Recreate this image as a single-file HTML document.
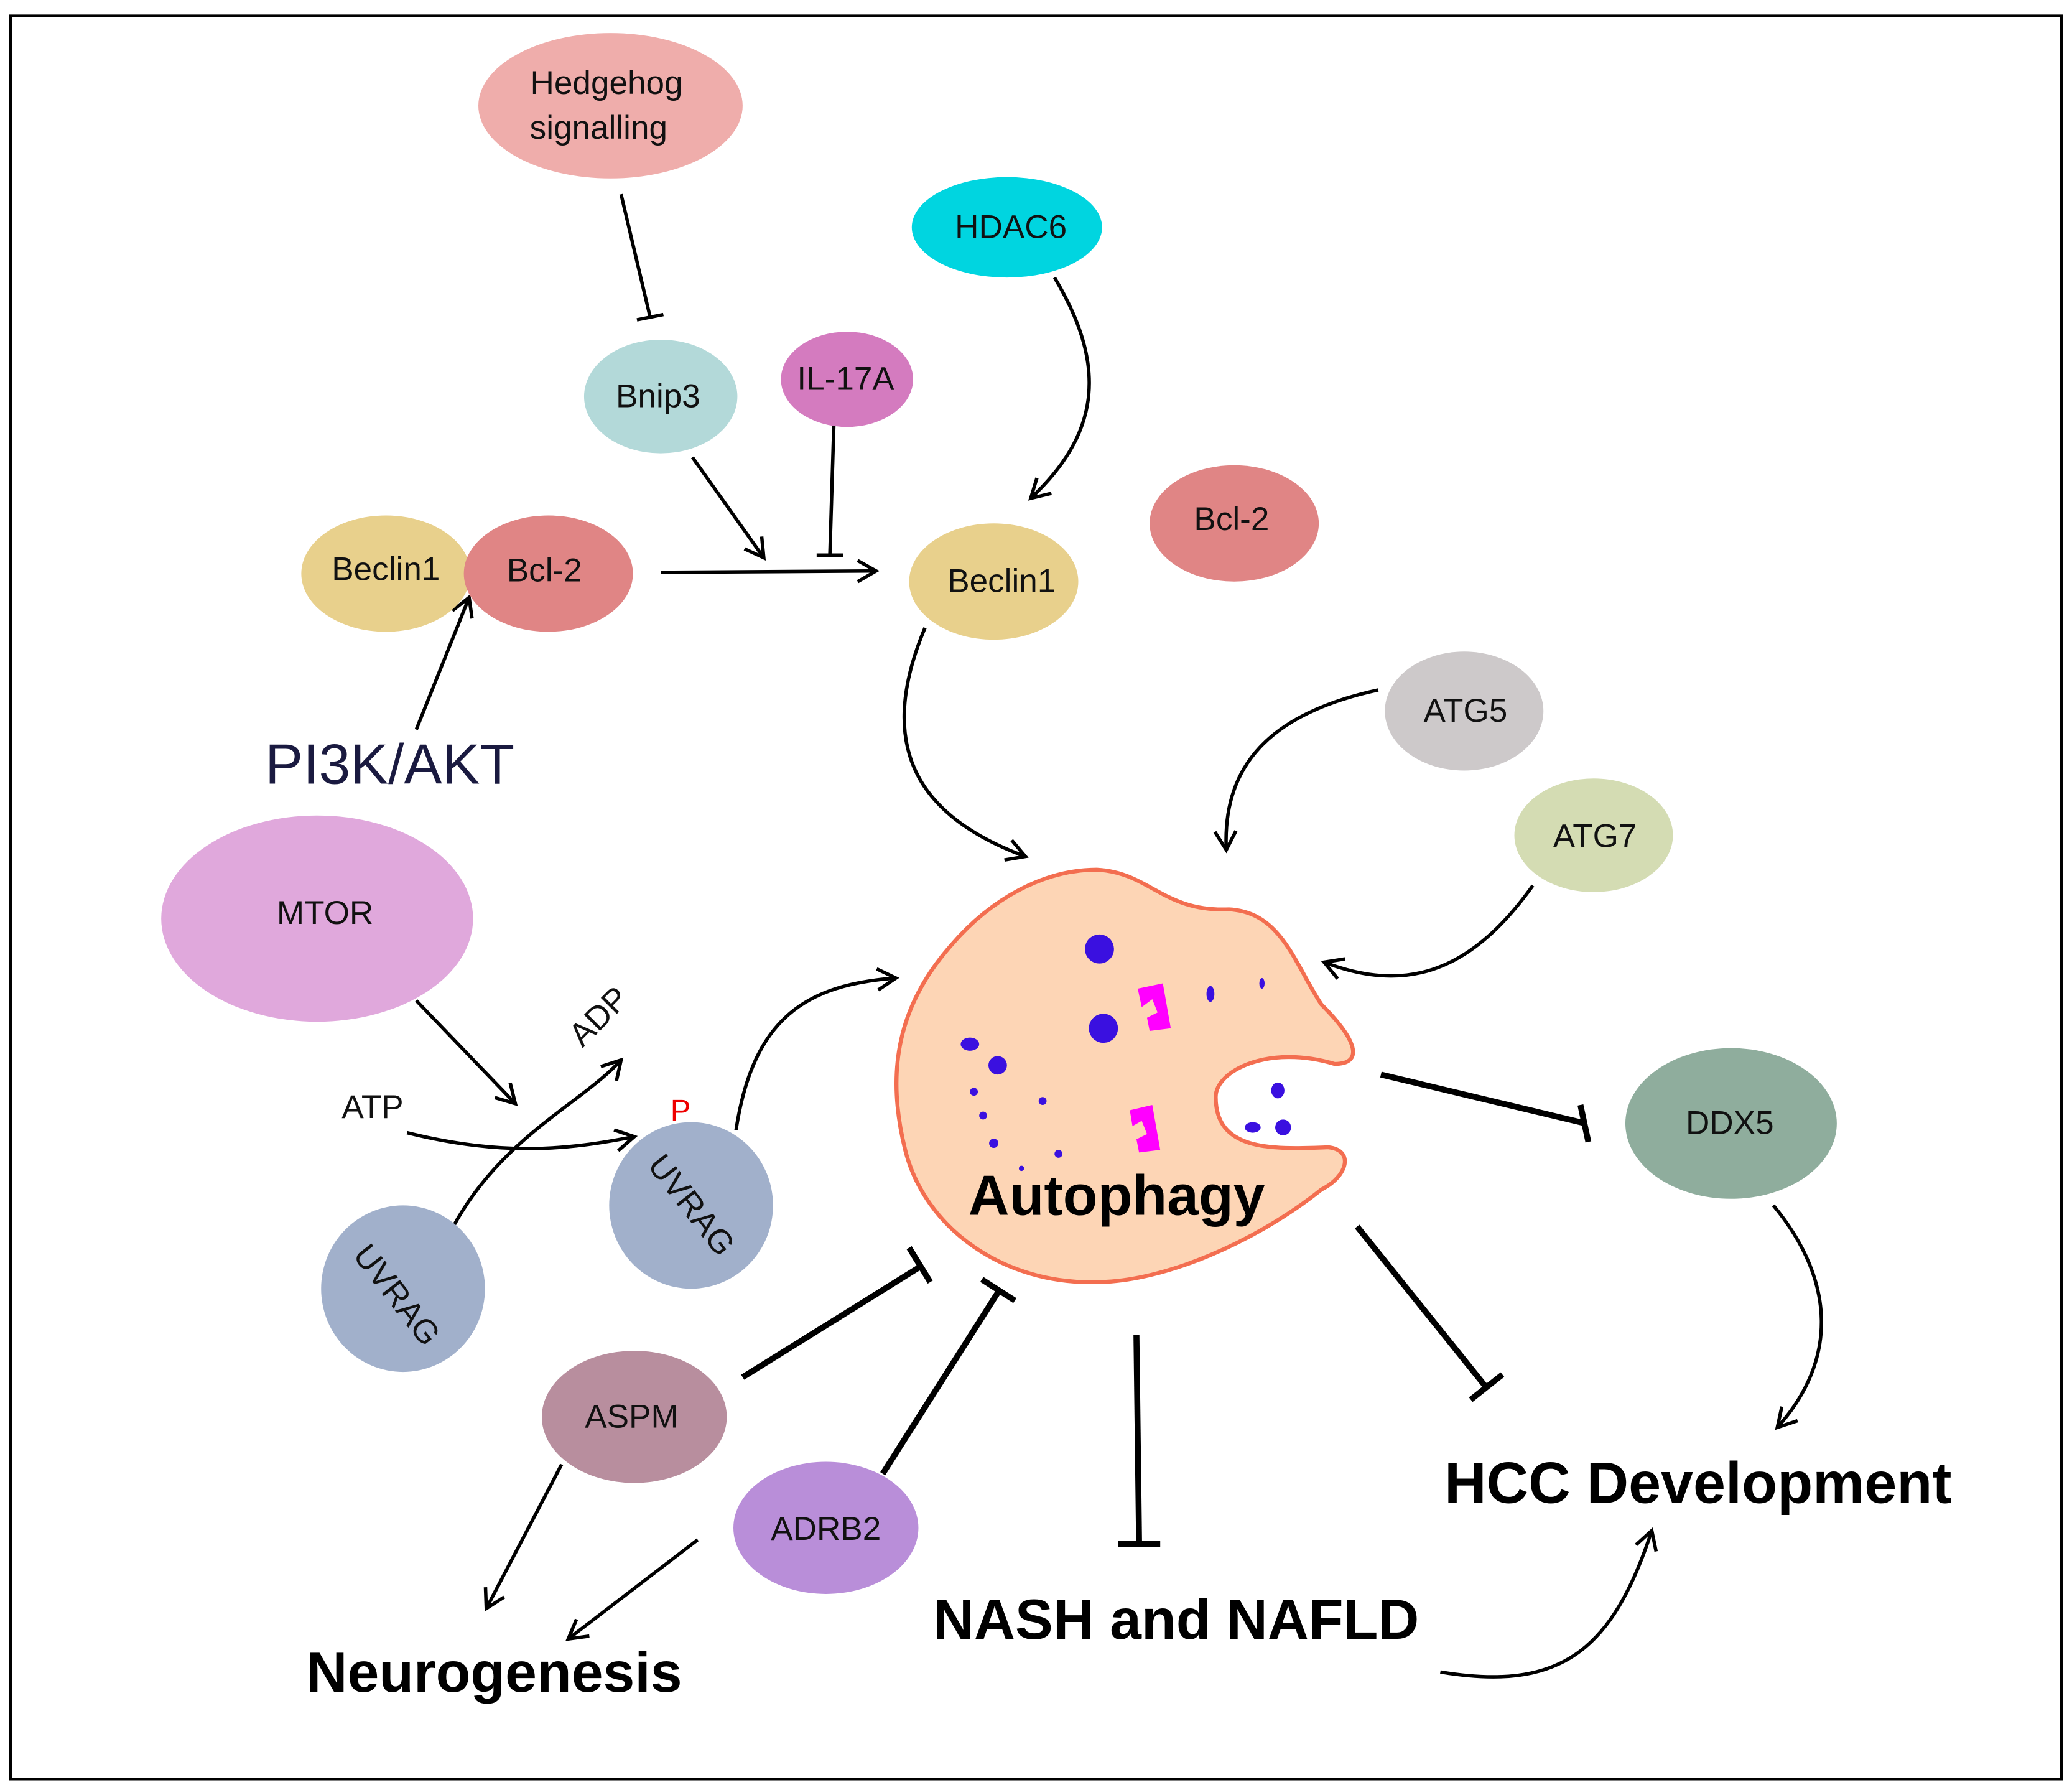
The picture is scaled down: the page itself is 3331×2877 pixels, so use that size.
<!DOCTYPE html>
<html><head><meta charset="utf-8"><style>
html,body{margin:0;padding:0;background:#fff;}
svg{display:block;}
text{font-family:"Liberation Sans",sans-serif;}
</style></head><body>
<svg width="3331" height="2877" viewBox="0 0 1568 1354.3" preserveAspectRatio="none" xmlns="http://www.w3.org/2000/svg">
<defs>
<marker id="a" viewBox="0 0 20 20" refX="17" refY="10" markerWidth="20" markerHeight="20" markerUnits="userSpaceOnUse" orient="auto">
<polyline points="3,2 17,10 3,18" fill="none" stroke="#000" stroke-width="2.6"/></marker>
</defs>
<rect x="8" y="12" width="1552" height="1334" fill="#fff" stroke="#000" stroke-width="2"/>
<g stroke="#000" stroke-width="2.6" fill="none">
<line x1="470" y1="147" x2="492" y2="240"/><line x1="482" y1="242" x2="502" y2="238"/>
<line x1="500" y1="433" x2="663" y2="432" marker-end="url(#a)"/>
<line x1="524" y1="346" x2="578" y2="422" marker-end="url(#a)"/>
<line x1="631" y1="322" x2="628" y2="420"/><line x1="618" y1="420" x2="638" y2="420"/>
<path d="M798 210 C840 280 830 330 780 377" marker-end="url(#a)"/>
<path d="M700 475 C660 570 700 620 776 648" marker-end="url(#a)"/>
<line x1="315" y1="552" x2="355" y2="452" marker-end="url(#a)"/>
<path d="M1043 522 C960 540 925 580 928 643" marker-end="url(#a)"/>
<path d="M1160 670 C1110 740 1060 750 1002 728" marker-end="url(#a)"/>
<line x1="315" y1="757" x2="390" y2="835" marker-end="url(#a)"/>
<path d="M308 857 C380 875 430 870 480 860" marker-end="url(#a)"/>
<path d="M343 928 C380 860 440 835 470 802" marker-end="url(#a)"/>
<path d="M557 855 C570 770 610 745 678 740" marker-end="url(#a)"/>
<path d="M1342 912 C1390 970 1390 1030 1345 1080" marker-end="url(#a)"/>
<path d="M1090 1265 C1180 1280 1220 1250 1250 1158" marker-end="url(#a)"/>
<line x1="425" y1="1108" x2="368" y2="1217" marker-end="url(#a)"/>
<line x1="528" y1="1165" x2="430" y2="1240" marker-end="url(#a)"/>
</g>
<g stroke="#000" stroke-width="4.5" fill="none">
<line x1="1045" y1="813" x2="1200" y2="850"/><line x1="1196" y1="836" x2="1202" y2="864"/>
<line x1="1027" y1="928" x2="1125" y2="1050"/><line x1="1113" y1="1059" x2="1137" y2="1040"/>
<line x1="860" y1="1010" x2="862" y2="1168"/><line x1="846" y1="1168" x2="878" y2="1168"/>
<line x1="562" y1="1042" x2="697" y2="958"/><line x1="688" y1="944" x2="704" y2="970"/>
<line x1="668" y1="1115" x2="757" y2="975"/><line x1="743" y1="968" x2="768" y2="984"/>
</g>
<ellipse cx="462" cy="80" rx="100" ry="55" fill="#efadab"/>
<ellipse cx="762" cy="172" rx="72" ry="38" fill="#00d5e0"/>
<ellipse cx="500" cy="300" rx="58" ry="43" fill="#b3d9d9"/>
<ellipse cx="641" cy="287" rx="50" ry="36" fill="#d47bbf"/>
<ellipse cx="292" cy="434" rx="64" ry="44" fill="#e8d08c"/>
<ellipse cx="415" cy="434" rx="64" ry="44" fill="#e08585"/>
<ellipse cx="934" cy="396" rx="64" ry="44" fill="#e08585"/>
<ellipse cx="752" cy="440" rx="64" ry="44" fill="#e8d08c"/>
<ellipse cx="1108" cy="538" rx="60" ry="45" fill="#cdc9ca"/>
<ellipse cx="1206" cy="632" rx="60" ry="43" fill="#d4dcb3"/>
<ellipse cx="240" cy="695" rx="118" ry="78" fill="#e0a8dc"/>
<ellipse cx="523" cy="912" rx="62" ry="63" fill="#a1b0cb"/>
<ellipse cx="305" cy="975" rx="62" ry="63" fill="#a1b0cb"/>
<ellipse cx="1310" cy="850" rx="80" ry="57" fill="#8fad9d"/>
<ellipse cx="480" cy="1072" rx="70" ry="50" fill="#b88e9e"/>
<ellipse cx="625" cy="1156" rx="70" ry="50" fill="#b98ed9"/>
<path d="M830 658 C870 660 880 690 930 688 C970 690 980 730 1000 760 C1030 790 1030 805 1010 805 C960 790 920 810 920 830 C920 870 960 870 1005 868 C1025 870 1020 890 1000 900 C950 940 880 970 830 970 C760 972 700 930 685 870 C670 810 680 760 720 715 C750 680 790 658 830 658 Z" fill="#fdd5b5" stroke="#f36e50" stroke-width="3"/>
<g fill="#3a10e0">
<circle cx="832" cy="718" r="11"/><circle cx="835" cy="778" r="11"/><circle cx="755" cy="806" r="7"/>
<ellipse cx="734" cy="790" rx="7" ry="5"/><ellipse cx="916" cy="752" rx="3" ry="6"/><ellipse cx="955" cy="744" rx="2" ry="4"/>
<circle cx="737" cy="826" r="3"/><circle cx="744" cy="844" r="3"/><circle cx="752" cy="865" r="3.5"/>
<circle cx="789" cy="833" r="3"/><circle cx="801" cy="873" r="3"/><circle cx="773" cy="884" r="2"/>
<ellipse cx="967" cy="825" rx="5" ry="6"/><ellipse cx="948" cy="853" rx="6" ry="4"/><circle cx="971" cy="853" r="6"/>
</g>
<g fill="#ff00ff">
<path d="M861 748 L880 744 L886 778 L870 780 L868 770 L876 766 L872 756 L864 762 Z"/>
<path d="M855 840 L872 836 L878 870 L862 872 L860 862 L868 858 L864 848 L857 852 Z"/>
</g>
<g font-size="25" fill="#111" text-anchor="middle">
<text x="459" y="71">Hedgehog</text><text x="453" y="105">signalling</text>
<text x="765" y="180">HDAC6</text>
<text x="498" y="308">Bnip3</text>
<text x="640" y="295">IL-17A</text>
<text x="292" y="439">Beclin1</text>
<text x="412" y="440">Bcl-2</text>
<text x="932" y="401">Bcl-2</text>
<text x="758" y="448">Beclin1</text>
<text x="1109" y="546">ATG5</text>
<text x="1207" y="641">ATG7</text>
<text x="246" y="699">MTOR</text>
<text x="1309" y="858">DDX5</text>
<text x="478" y="1080">ASPM</text>
<text x="625" y="1165">ADRB2</text>
<text x="282" y="846">ATP</text>
<text transform="translate(459,775) rotate(-45)">ADP</text>
<text transform="translate(523,912) rotate(52)" y="8">UVRAG</text>
<text transform="translate(300,980) rotate(52)" y="8">UVRAG</text>
</g>
<text x="515" y="848" font-size="23" fill="#e00" text-anchor="middle">P</text>
<text x="295" y="593" font-size="43" fill="#1a1a40" text-anchor="middle">PI3K/AKT</text>
<g font-weight="bold" fill="#000" text-anchor="middle">
<text x="845" y="919" font-size="43">Autophagy</text>
<text x="1285" y="1137" font-size="44">HCC Development</text>
<text x="890" y="1240" font-size="43">NASH and NAFLD</text>
<text x="374" y="1280" font-size="43">Neurogenesis</text>
</g>
</svg>
</body></html>
